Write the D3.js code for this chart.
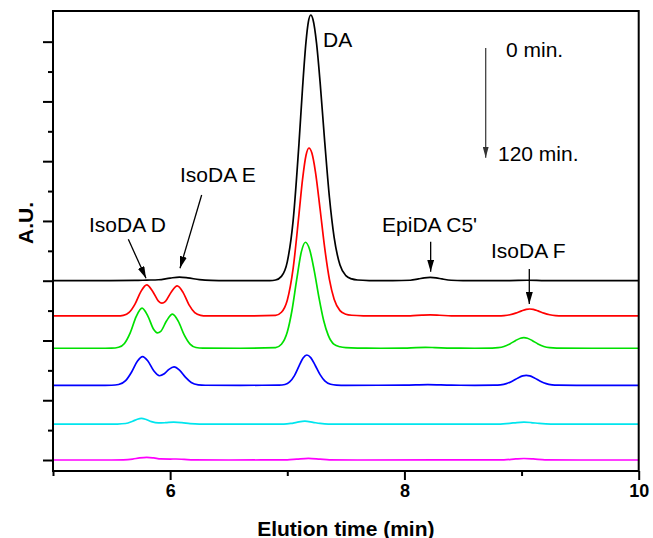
<!DOCTYPE html>
<html>
<head>
<meta charset="utf-8">
<script src="https://cdn.jsdelivr.net/npm/d3@7"></script>
<style>
  body { margin: 0; background: #fff; }
  svg { display: block; font-family: "Liberation Sans", Arial, sans-serif; }
</style>
</head>
<body>
<svg id="chart" width="653" height="538"></svg>
<script>
///////////////////////////////////////////////////////////////////////////////
// data: elution time (min) vs signal above each trace's own baseline (A.U.)

var xTicksMajor = [6, 8, 10];
var xTicksMinor = [5, 7, 9];
var yTicksMajor = [0, 1, 2, 3, 4, 5, 6, 7];
var yTicksMinor = [0.5, 1.5, 2.5, 3.5, 4.5, 5.5, 6.5];

// vertical offset of each trace, 0 min at the top ... 120 min at the bottom
var baselines = [3.0, 2.41, 1.87, 1.25, 0.6, 0];
var colors = ["#000000", "#ff0000", "#00e000", "#0000ff", "#00e5ee", "#ff00ff"];

var trace0 = [[5.0,0],[5.4,0.002],[5.7,0.004],[5.8,0.01],[5.9,0.016],[6.0,0.044],[6.08,0.06],[6.15,0.048],
  [6.25,0.018],[6.35,0.005],[6.5,0.001],[6.7,0],[6.85,0.002],[6.9,0.012],[6.95,0.072],[7.0,0.316],
  [7.05,1.006],[7.1,2.298],[7.13,3.216],[7.16,4.0],[7.18,4.33],[7.2,4.446],[7.22,4.366],[7.25,3.97],
  [7.28,3.326],[7.32,2.314],[7.36,1.392],[7.4,0.725],[7.45,0.261],[7.5,0.085],[7.55,0.03],[7.6,0.012],
  [7.7,0.003],[7.9,0],[8.05,0.008],[8.12,0.03],[8.17,0.047],[8.22,0.055],[8.27,0.047],[8.32,0.03],
  [8.4,0.008],[8.5,0.001],[8.9,0.003],[9.05,0.008],[9.2,0.002],[9.5,0],[10,0]];

var trace1 = [[5.0,0],[5.4,0],[5.55,0.001],[5.6,0.011],[5.65,0.059],[5.7,0.198],[5.75,0.408],[5.8,0.52],
  [5.85,0.415],[5.9,0.25],[5.93,0.215],[5.96,0.245],[6.01,0.402],[6.06,0.503],[6.11,0.395],[6.16,0.191],
  [6.21,0.058],[6.26,0.011],[6.31,0.001],[6.6,0],[6.9,0.01],[6.95,0.062],[7.0,0.263],[7.05,0.796],
  [7.1,1.705],[7.13,2.28],[7.16,2.69],[7.185,2.811],[7.21,2.725],[7.24,2.417],[7.28,1.79],[7.32,1.13],
  [7.36,0.608],[7.4,0.279],[7.45,0.09],[7.5,0.03],[7.55,0.012],[7.65,0.003],[7.8,0],[8.05,0.003],
  [8.15,0.014],[8.22,0.018],[8.3,0.012],[8.4,0.002],[8.6,0],[8.8,0.001],[8.85,0.006],[8.9,0.02],
  [8.95,0.048],[9.0,0.086],[9.04,0.111],[9.07,0.117],[9.1,0.111],[9.14,0.086],[9.19,0.048],[9.24,0.02],
  [9.29,0.006],[9.35,0.001],[9.6,0],[10,0]];

var trace2 = [[5.0,0],[5.4,0],[5.5,0.001],[5.56,0.016],[5.61,0.081],[5.66,0.262],[5.71,0.529],[5.76,0.67],
  [5.81,0.538],[5.86,0.313],[5.89,0.258],[5.92,0.283],[5.97,0.461],[6.02,0.57],[6.07,0.45],[6.12,0.223],
  [6.17,0.069],[6.22,0.013],[6.28,0.001],[6.6,0],[6.9,0.011],[6.95,0.067],[7.0,0.271],[7.04,0.632],
  [7.08,1.143],[7.12,1.612],[7.155,1.774],[7.19,1.657],[7.23,1.299],[7.27,0.853],[7.31,0.469],[7.35,0.216],
  [7.4,0.064],[7.45,0.025],[7.5,0.01],[7.6,0.002],[7.8,0],[8.0,0.003],[8.1,0.012],[8.18,0.015],
  [8.26,0.011],[8.4,0.002],[8.6,0],[8.75,0.0015],[8.8,0.009],[8.85,0.03],[8.9,0.073],[8.95,0.13],
  [8.99,0.168],[9.02,0.177],[9.05,0.168],[9.09,0.13],[9.14,0.073],[9.19,0.03],[9.24,0.009],[9.3,0.0015],
  [9.6,0],[10,0]];

var trace3 = [[5.0,0],[5.4,0],[5.5,0.001],[5.56,0.013],[5.62,0.078],[5.67,0.219],[5.72,0.402],[5.765,0.48],
  [5.81,0.406],[5.86,0.242],[5.91,0.16],[5.95,0.193],[5.99,0.267],[6.033,0.307],[6.08,0.253],[6.13,0.136],
  [6.18,0.047],[6.24,0.008],[6.3,0.001],[6.6,0],[6.93,0.002],[6.98,0.014],[7.02,0.056],[7.06,0.158],
  [7.1,0.321],[7.135,0.457],[7.167,0.507],[7.2,0.464],[7.24,0.327],[7.28,0.178],[7.32,0.074],[7.37,0.017],
  [7.42,0.003],[7.5,0],[8.0,0.002],[8.2,0.01],[8.4,0.002],[8.6,0],[8.77,0.0014],[8.82,0.008],[8.87,0.028],
  [8.92,0.069],[8.97,0.123],[9.01,0.158],[9.04,0.167],[9.07,0.158],[9.11,0.123],[9.16,0.069],[9.21,0.028],
  [9.26,0.008],[9.31,0.0014],[9.6,0],[10,0]];

var trace4 = [[5.0,0],[5.45,0],[5.55,0.002],[5.62,0.011],[5.68,0.049],[5.72,0.082],[5.755,0.095],[5.79,0.082],
  [5.84,0.042],[5.9,0.02],[5.96,0.024],[6.03,0.033],[6.1,0.025],[6.17,0.01],[6.25,0.002],[6.5,0],
  [6.97,0.002],[7.03,0.012],[7.08,0.03],[7.15,0.05],[7.22,0.03],[7.28,0.012],[7.35,0.002],[7.6,0],
  [8.8,0.002],[8.9,0.014],[8.96,0.027],[9.02,0.033],[9.08,0.027],[9.15,0.013],[9.25,0.002],[9.5,0],[10,0]];

var trace5 = [[5.0,0],[5.5,0],[5.6,0.002],[5.68,0.015],[5.74,0.035],[5.8,0.045],[5.86,0.035],[5.92,0.018],
  [6.0,0.016],[6.05,0.017],[6.12,0.01],[6.2,0.002],[6.5,0],[7.0,0.002],[7.08,0.014],[7.18,0.028],
  [7.28,0.014],[7.36,0.002],[7.6,0],[8.85,0.003],[8.95,0.018],[9.02,0.025],[9.1,0.018],[9.2,0.003],
  [9.5,0],[10,0]];

var traces = [trace0, trace1, trace2, trace3, trace4, trace5];

// peak labels, in data units (time, A.U.)
var annotations = [
  { text: "DA",        at: [7.305, 6.91] },
  { text: "IsoDA E",   at: [6.084, 4.652], from: [6.269, 4.434], to: [6.084, 3.208] },
  { text: "IsoDA D",   at: [5.307, 3.815], from: [5.643, 3.693], to: [5.794, 3.04] },
  { text: "EpiDA C5'", at: [7.809, 3.815], from: [8.224, 3.653], to: [8.224, 3.151] },
  { text: "IsoDA F",   at: [8.739, 3.38],  from: [9.066, 3.196], to: [9.066, 2.61] }
];
var timeLabels = [
  { text: "0 min.",   at: [8.867, 6.75] },
  { text: "120 min.", at: [8.799, 5.011] }
];
var timeArrow = { from: [8.694, 6.894], to: [8.694, 5.059] };

///////////////////////////////////////////////////////////////////////////////

var svg = d3.select("#chart");
var plotLeft = 53, plotRight = 638.7, plotTop = 11, plotBottom = 471;

var x = d3.scaleLinear().domain([5, 10]).range([plotLeft, plotRight]);
var y = d3.scaleLinear().domain([-0.184, 7.513]).range([plotBottom, plotTop]);

var defs = svg.append("defs");
var addHead = function (id, len, wid, color) {
  defs.append("marker")
    .attr("id", id)
    .attr("viewBox", "0 0 " + len + " " + wid)
    .attr("refX", len).attr("refY", wid / 2)
    .attr("markerWidth", len).attr("markerHeight", wid)
    .attr("markerUnits", "userSpaceOnUse")
    .attr("orient", "auto")
    .append("path")
    .attr("d", "M0,0L" + len + "," + (wid / 2) + "L0," + wid + "Z")
    .attr("fill", color);
};
addHead("head", 12, 7, "#000");
addHead("headGray", 11, 6, "#333");

// traces
var line = d3.line()
  .x(function (d) { return x(d[0]); })
  .y(function (d) { return y(d[1]); })
  .curve(d3.curveMonotoneX);

traces.forEach(function (pts, i) {
  var shifted = pts.map(function (p) { return [p[0], p[1] + baselines[i]]; });
  svg.append("path")
    .datum(shifted)
    .attr("d", line)
    .attr("fill", "none")
    .attr("stroke", colors[i])
    .attr("stroke-width", 1.7)
    .attr("stroke-linejoin", "round");
});

// axes
var styleAxis = function (g) {
  g.select(".domain").remove();
  g.selectAll(".tick line").attr("stroke", "#000").attr("stroke-width", 2);
};

svg.append("g")
  .attr("transform", "translate(0," + plotBottom + ")")
  .call(d3.axisBottom(x).tickValues(xTicksMinor).tickSize(5).tickFormat(""))
  .call(styleAxis);

svg.append("g")
  .attr("transform", "translate(0," + plotBottom + ")")
  .call(d3.axisBottom(x).tickValues(xTicksMajor).tickSize(9).tickPadding(4)
        .tickFormat(d3.format("d")))
  .call(styleAxis)
  .call(function (g) {
    g.selectAll(".tick text")
      .attr("fill", "#000")
      .style("font-family", "'Liberation Sans', Arial, sans-serif")
      .style("font-size", "18px")
      .style("font-weight", "bold");
  });

svg.append("g")
  .attr("transform", "translate(" + plotLeft + ",0)")
  .call(d3.axisLeft(y).tickValues(yTicksMinor).tickSize(5).tickFormat(""))
  .call(styleAxis);

svg.append("g")
  .attr("transform", "translate(" + plotLeft + ",0)")
  .call(d3.axisLeft(y).tickValues(yTicksMajor).tickSize(10).tickFormat(""))
  .call(styleAxis);

svg.append("rect")
  .attr("x", plotLeft).attr("y", plotTop)
  .attr("width", plotRight - plotLeft).attr("height", plotBottom - plotTop)
  .attr("fill", "none")
  .attr("stroke", "#000")
  .attr("stroke-width", 2);

svg.append("text")
  .attr("x", (plotLeft + plotRight) / 2)
  .attr("y", 536)
  .attr("text-anchor", "middle")
  .style("font-size", "21px")
  .style("font-weight", "bold")
  .text("Elution time (min)");

svg.append("text")
  .attr("transform", "translate(33,223) rotate(-90)")
  .attr("text-anchor", "middle")
  .style("font-size", "21px")
  .style("font-weight", "bold")
  .text("A.U.");

// peak labels and arrows
svg.selectAll(".peak-label")
  .data(annotations)
  .enter().append("text")
  .attr("class", "peak-label")
  .attr("x", function (d) { return x(d.at[0]); })
  .attr("y", function (d) { return y(d.at[1]); })
  .style("font-size", "21px")
  .text(function (d) { return d.text; });

svg.selectAll(".peak-arrow")
  .data(annotations.filter(function (d) { return d.from; }))
  .enter().append("line")
  .attr("class", "peak-arrow")
  .attr("x1", function (d) { return x(d.from[0]); })
  .attr("y1", function (d) { return y(d.from[1]); })
  .attr("x2", function (d) { return x(d.to[0]); })
  .attr("y2", function (d) { return y(d.to[1]); })
  .attr("stroke", "#000")
  .attr("stroke-width", 1.3)
  .attr("marker-end", "url(#head)");

svg.selectAll(".time-label")
  .data(timeLabels)
  .enter().append("text")
  .attr("class", "time-label")
  .attr("x", function (d) { return x(d.at[0]); })
  .attr("y", function (d) { return y(d.at[1]); })
  .style("font-size", "21px")
  .text(function (d) { return d.text; });

svg.append("line")
  .attr("x1", x(timeArrow.from[0])).attr("y1", y(timeArrow.from[1]))
  .attr("x2", x(timeArrow.to[0])).attr("y2", y(timeArrow.to[1]))
  .attr("stroke", "#333")
  .attr("stroke-width", 1.2)
  .attr("marker-end", "url(#headGray)");
</script>
</body>
</html>
